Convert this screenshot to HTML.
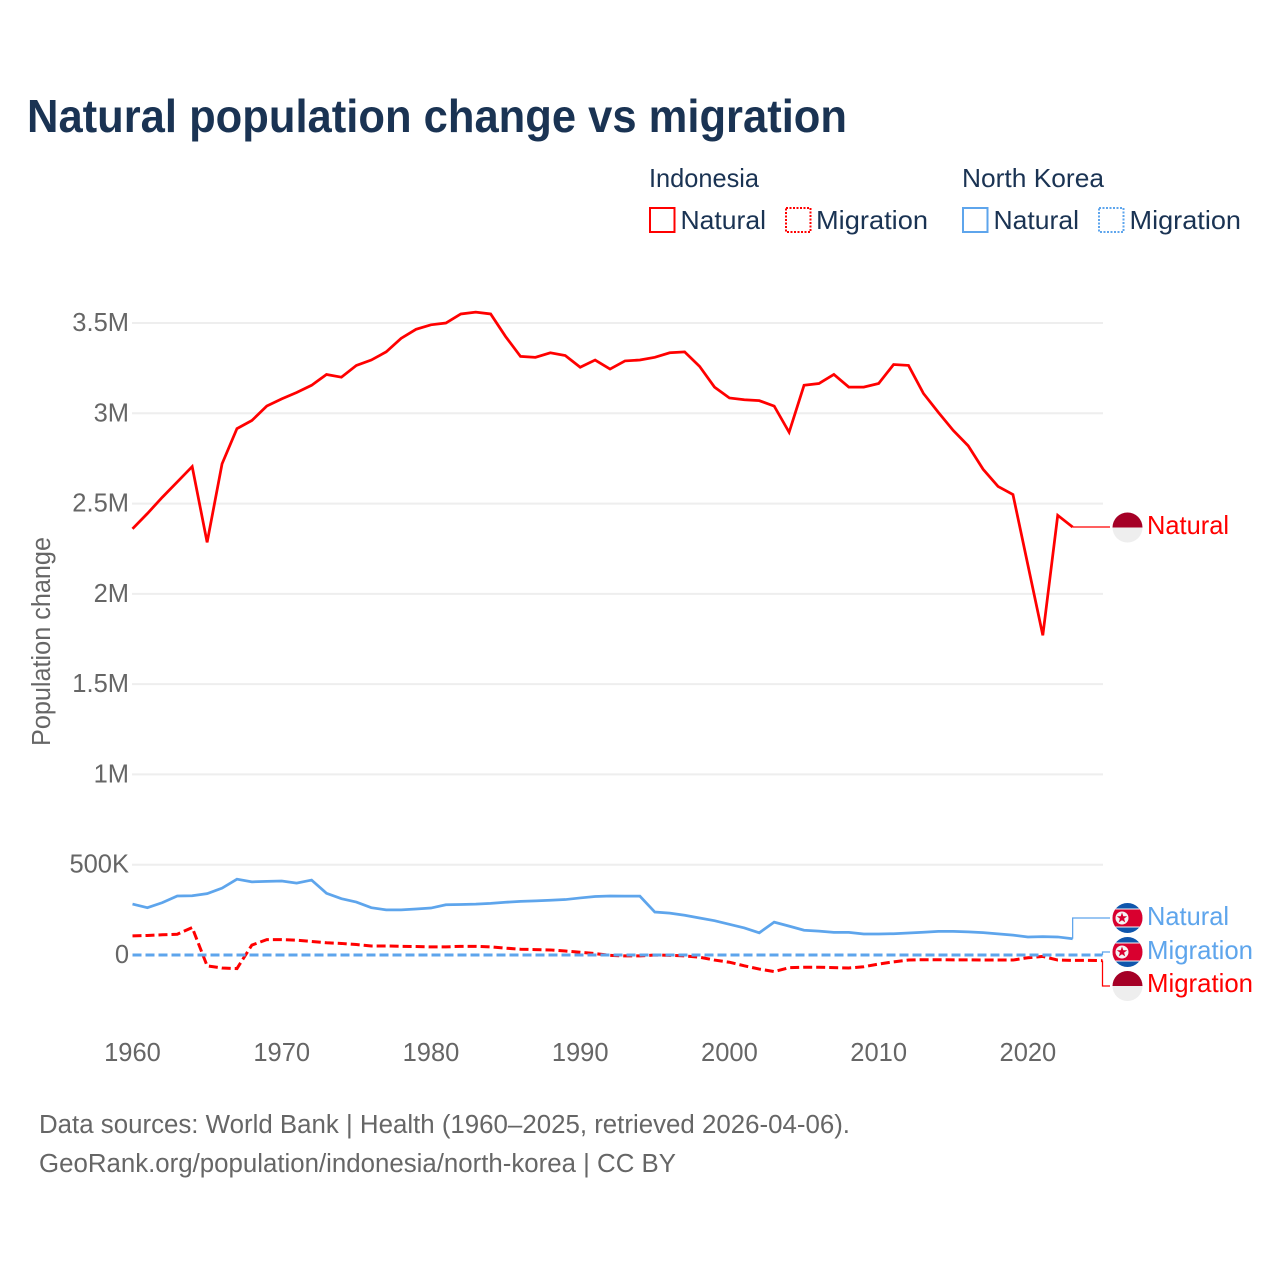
<!DOCTYPE html>
<html lang="en">
<head>
<meta charset="utf-8">
<title>Natural population change vs migration</title>
<style>
  html, body { margin: 0; padding: 0; background: #fff; }
  svg { display: block; font-family: "Liberation Sans", sans-serif; }
  .tick { font-size: 25.5px; fill: #666; }
</style>
</head>
<body>
<svg id="chart" width="1280" height="1280" viewBox="0 0 1280 1280" xmlns="http://www.w3.org/2000/svg">
  <rect width="1280" height="1280" fill="#fff"/>
  <text x="27" y="132" font-size="46" font-weight="700" fill="#1a3353" textLength="820" lengthAdjust="spacingAndGlyphs">Natural population change vs migration</text>

  <g font-size="26" fill="#1a3353">
    <text x="649" y="187" textLength="110" lengthAdjust="spacingAndGlyphs">Indonesia</text>
    <text x="962" y="187" textLength="142" lengthAdjust="spacingAndGlyphs">North Korea</text>
    <rect x="650" y="208" width="24.5" height="24" fill="none" stroke="#ff0000" stroke-width="2"/>
    <text x="680.5" y="229" textLength="85.5" lengthAdjust="spacingAndGlyphs">Natural</text>
    <rect x="786" y="208" width="24.5" height="24" fill="none" stroke="#ff0000" stroke-width="2" stroke-dasharray="2 1.5"/>
    <text x="816" y="229" textLength="112" lengthAdjust="spacingAndGlyphs">Migration</text>
    <rect x="963" y="208" width="24.5" height="24" fill="none" stroke="#5ea5ec" stroke-width="2"/>
    <text x="993.5" y="229" textLength="85.5" lengthAdjust="spacingAndGlyphs">Natural</text>
    <rect x="1099" y="208" width="24.5" height="24" fill="none" stroke="#5ea5ec" stroke-width="2" stroke-dasharray="2 1.5"/>
    <text x="1129.5" y="229" textLength="111.5" lengthAdjust="spacingAndGlyphs">Migration</text>
  </g>

  <g id="grid"></g>
  <g id="ytick-labels"></g>
  <g id="xtick-labels"></g>
  <text transform="translate(50,746) rotate(-90)" font-size="25.5" fill="#666" textLength="209" lengthAdjust="spacingAndGlyphs">Population change</text>
  <g id="series"></g>

  <defs>
    <clipPath id="flag-clip"><circle cx="0" cy="0" r="15"/></clipPath>
    <g id="flag-id">
      <g clip-path="url(#flag-clip)">
        <rect x="-15" y="-15" width="30" height="15" fill="#a50026"/>
        <rect x="-15" y="0" width="30" height="15" fill="#eeeeee"/>
      </g>
    </g>
    <g id="flag-kp">
      <g clip-path="url(#flag-clip)">
        <rect x="-15" y="-15" width="30" height="30" fill="#0f56ac"/>
        <rect x="-15" y="-9.5" width="30" height="19" fill="#f4f4f4"/>
        <rect x="-15" y="-8.5" width="30" height="17" fill="#d9002f"/>
        <circle cx="-5.5" cy="0" r="6.5" fill="#f4f4f4"/>
        <polygon points="-5.5,-5.5 -4.2,-1.8 -0.3,-1.8 -3.4,0.6 -2.3,4.4 -5.5,2.2 -8.7,4.4 -7.6,0.6 -10.7,-1.8 -6.8,-1.8" fill="#d9002f"/>
      </g>
    </g>
  </defs>

  <g id="end-labels" font-size="26">
    <use href="#flag-id" transform="translate(1127.5,527.5)"/>
    <text x="1147" y="534" fill="#ff0000" textLength="82" lengthAdjust="spacingAndGlyphs">Natural</text>
    <use href="#flag-kp" transform="translate(1127.5,918)"/>
    <text x="1147" y="925" fill="#5ea5ec" textLength="82" lengthAdjust="spacingAndGlyphs">Natural</text>
    <use href="#flag-kp" transform="translate(1127.5,952)"/>
    <text x="1147" y="959" fill="#5ea5ec" textLength="106" lengthAdjust="spacingAndGlyphs">Migration</text>
    <use href="#flag-id" transform="translate(1127.5,986)"/>
    <text x="1147" y="992" fill="#ff0000" textLength="106" lengthAdjust="spacingAndGlyphs">Migration</text>
  </g>

  <g font-size="25.5" fill="#666">
    <text x="39" y="1133" textLength="811" lengthAdjust="spacingAndGlyphs">Data sources: World Bank | Health (1960–2025, retrieved 2026-04-06).</text>
    <text x="39" y="1172" textLength="637" lengthAdjust="spacingAndGlyphs">GeoRank.org/population/indonesia/north-korea | CC BY</text>
  </g>
</svg>

<script>
const years = [1960,1961,1962,1963,1964,1965,1966,1967,1968,1969,1970,1971,1972,1973,1974,1975,1976,1977,1978,1979,1980,1981,1982,1983,1984,1985,1986,1987,1988,1989,1990,1991,1992,1993,1994,1995,1996,1997,1998,1999,2000,2001,2002,2003,2004,2005,2006,2007,2008,2009,2010,2011,2012,2013,2014,2015,2016,2017,2018,2019,2020,2021,2022,2023,2024,2025];
const yTickValues = [500000,1000000,1500000,2000000,2500000,3000000,3500000];
const yTickLabels = ["500K","1M","1.5M","2M","2.5M","3M","3.5M"];
const xTickYears = [1960,1970,1980,1990,2000,2010,2020];
const indonesiaNatural = [2360000,2445000,2535000,2620000,2705000,2285000,2720000,2915000,2960000,3040000,3080000,3115000,3155000,3215000,3200000,3265000,3295000,3340000,3415000,3465000,3490000,3500000,3550000,3560000,3550000,3425000,3315000,3310000,3335000,3320000,3255000,3295000,3245000,3290000,3295000,3310000,3335000,3340000,3260000,3145000,3085000,3075000,3070000,3040000,2895000,3155000,3165000,3215000,3145000,3145000,3165000,3270000,3265000,3110000,3005000,2905000,2820000,2690000,2595000,2550000,2160000,1770000,2435000,2370000];
const northKoreaNatural = [282000,262000,290000,327000,328000,340000,370000,420000,405000,408000,410000,398000,415000,342000,312000,293000,262000,250000,250000,255000,260000,278000,280000,282000,286000,292000,297000,300000,303000,307000,316000,324000,327000,326000,326000,238000,232000,220000,205000,190000,170000,150000,123000,182000,160000,137000,132000,125000,125000,116000,116000,118000,122000,126000,131000,131000,128000,124000,117000,110000,100000,102000,100000,90000];
const indonesiaMigration = [106000,108000,112000,115000,152000,-60000,-72000,-75000,55000,85000,85000,82000,75000,68000,64000,58000,50000,50000,48000,47000,45000,45000,48000,48000,45000,38000,32000,30000,28000,22000,15000,8000,-2000,-5000,-5000,0,-2000,-5000,-12000,-28000,-40000,-60000,-78000,-92000,-70000,-68000,-68000,-70000,-72000,-65000,-50000,-38000,-28000,-26000,-26000,-27000,-27000,-28000,-28000,-28000,-15000,-8000,-28000,-30000,-30000,-31000];
const northKoreaMigration = [0,0,0,0,0,0,0,0,0,0,0,0,0,0,0,0,0,0,0,0,0,0,0,0,0,0,0,0,0,0,0,0,0,0,0,0,0,0,0,0,0,0,0,0,0,0,0,0,0,0,0,0,0,0,0,0,0,0,0,0,0,0,0,0,0,0];

const SVG_NS = "http://www.w3.org/2000/svg";
const RED = "#ff0000";
const BLUE = "#5ea5ec";
const DASH = "9 4";

function xScale(year) { return 132.5 + (year - 1960) * (970 / 65); }
function yScale(value) { return 955 - value * (632 / 3500000); }
function linePath(values) {
  return values.map(function (v, i) {
    return (i ? "L" : "M") + xScale(years[i]).toFixed(2) + " " + yScale(v).toFixed(2);
  }).join(" ");
}
function lastPoint(values) {
  const i = values.length - 1;
  return [xScale(years[i]), yScale(values[i])];
}
function makePath(d, color, width, dash) {
  const p = document.createElementNS(SVG_NS, "path");
  p.setAttribute("d", d);
  p.setAttribute("fill", "none");
  p.setAttribute("stroke", color);
  p.setAttribute("stroke-width", width);
  p.setAttribute("stroke-linejoin", "miter");
  if (dash) p.setAttribute("stroke-dasharray", dash);
  return p;
}
function connector(values, labelY) {
  const e = lastPoint(values);
  return "M" + e[0].toFixed(2) + " " + e[1].toFixed(2) + " V" + labelY + " H1110";
}

const gridGroup = document.getElementById("grid");
const yLabelGroup = document.getElementById("ytick-labels");
const xLabelGroup = document.getElementById("xtick-labels");
const seriesGroup = document.getElementById("series");

yTickValues.forEach(function (v, i) {
  const line = document.createElementNS(SVG_NS, "line");
  
  
  line.setAttribute("x1", 132);
  line.setAttribute("x2", 1103);
  line.setAttribute("y1", yScale(v));
  line.setAttribute("y2", yScale(v));
  line.setAttribute("stroke", "#eeeeee");
  line.setAttribute("stroke-width", 2);
  gridGroup.appendChild(line);
});

yTickLabels.concat(["0"]).forEach(function (label, i) {
  const v = i < yTickValues.length ? yTickValues[i] : 0;
  const t = document.createElementNS(SVG_NS, "text");
  
  
  t.setAttribute("class", "tick");
  t.setAttribute("x", 129);
  t.setAttribute("y", yScale(v) + 8);
  t.setAttribute("text-anchor", "end");
  t.textContent = label;
  yLabelGroup.appendChild(t);
});

xTickYears.forEach(function (yr) {
  const t = document.createElementNS(SVG_NS, "text");
  
  
  t.setAttribute("class", "tick");
  t.setAttribute("x", xScale(yr));
  t.setAttribute("y", 1061);
  t.setAttribute("text-anchor", "middle");
  t.textContent = String(yr);
  xLabelGroup.appendChild(t);
});

const lineIndonesiaNatural = makePath(linePath(indonesiaNatural), RED, 2.75);


seriesGroup.appendChild(lineIndonesiaNatural);

const lineIndonesiaMigration = makePath(linePath(indonesiaMigration), RED, 3, DASH);


seriesGroup.appendChild(lineIndonesiaMigration);

const lineNorthKoreaNatural = makePath(linePath(northKoreaNatural), BLUE, 2.75);


seriesGroup.appendChild(lineNorthKoreaNatural);

const lineNorthKoreaMigration = makePath(linePath(northKoreaMigration), BLUE, 3, DASH);


seriesGroup.appendChild(lineNorthKoreaMigration);

const connIndonesiaNatural = makePath(connector(indonesiaNatural, 527), RED, 1.25);


seriesGroup.appendChild(connIndonesiaNatural);

const connNorthKoreaNatural = makePath(connector(northKoreaNatural, 918), BLUE, 1.25);


seriesGroup.appendChild(connNorthKoreaNatural);

const connNorthKoreaMigration = makePath(connector(northKoreaMigration, 952), BLUE, 1.25);


seriesGroup.appendChild(connNorthKoreaMigration);

const connIndonesiaMigration = makePath(connector(indonesiaMigration, 986), RED, 1.25);


seriesGroup.appendChild(connIndonesiaMigration);
</script>
</body>
</html>
